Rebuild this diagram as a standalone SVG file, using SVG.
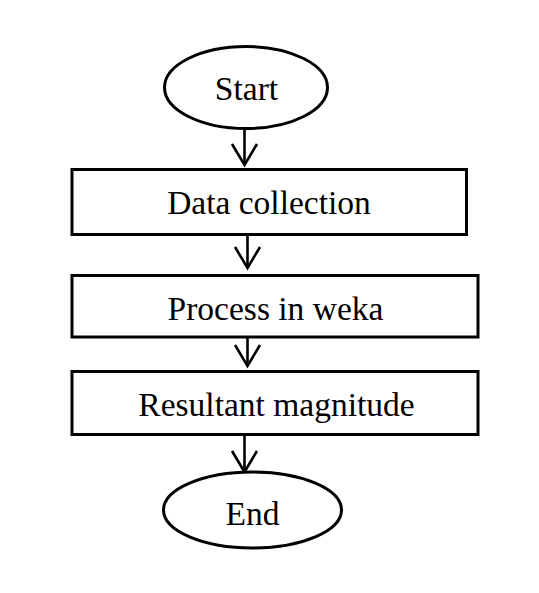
<svg xmlns="http://www.w3.org/2000/svg" width="539" height="593" viewBox="0 0 539 593">
<style>
.shape{fill:#fff;stroke:#000;stroke-width:3}
.lbl{font-family:"Liberation Serif","Times New Roman",serif;font-size:33.5px;fill:#000;text-anchor:middle}
.conn{fill:none;stroke:#000;stroke-width:2.6}
</style>
<defs>
<marker id="arr" viewBox="0 0 22 26" refX="21" refY="13" markerWidth="22" markerHeight="26" markerUnits="userSpaceOnUse" orient="auto" overflow="visible">
<path d="M0,0.5 L21,13 L0,25.5" fill="none" stroke="#000" stroke-width="2.6"/>
</marker>
</defs>
<rect width="539" height="593" fill="#fff"/>
<g id="connectors">
<line class="conn" x1="244.5" y1="129" x2="244.5" y2="165" marker-end="url(#arr)"/>
<line class="conn" x1="247.5" y1="235" x2="247.5" y2="268" marker-end="url(#arr)"/>
<line class="conn" x1="247.5" y1="337" x2="247.5" y2="366" marker-end="url(#arr)"/>
<line class="conn" x1="244.5" y1="434" x2="244.5" y2="472" marker-end="url(#arr)"/>
</g>
<g id="start">
<ellipse class="shape" cx="246" cy="87.5" rx="81.5" ry="41"/>
<text class="lbl" x="246.5" y="100">Start</text>
</g>
<g id="data-collection">
<rect class="shape" x="72" y="169.5" width="394.5" height="65"/>
<text class="lbl" x="269" y="214">Data collection</text>
</g>
<g id="process">
<rect class="shape" x="72" y="275.5" width="406" height="61.5"/>
<text class="lbl" x="275.5" y="320">Process in weka</text>
</g>
<g id="resultant">
<rect class="shape" x="72" y="371.5" width="406" height="63"/>
<text class="lbl" x="276.5" y="416">Resultant magnitude</text>
</g>
<g id="end">
<ellipse class="shape" cx="252.5" cy="510" rx="89" ry="38"/>
<text class="lbl" x="252.5" y="525">End</text>
</g>
</svg>
